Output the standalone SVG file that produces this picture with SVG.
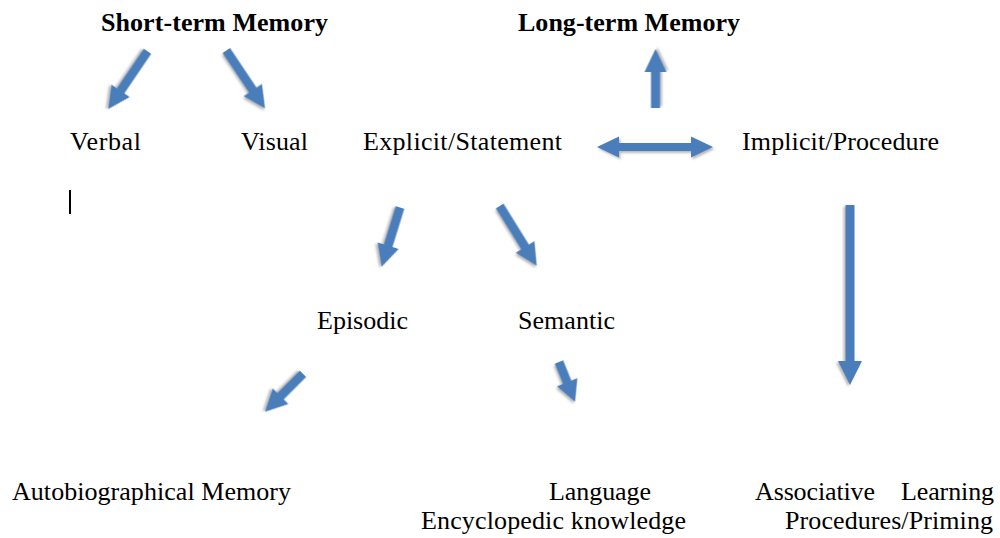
<svg xmlns="http://www.w3.org/2000/svg" width="1000" height="538" viewBox="0 0 1000 538">
  <style>
    text { font-family: "Liberation Serif", "Times New Roman", serif; font-size: 26px; fill: #000; }
    .b { font-weight: bold; }
    .arrow { fill: #4A7EBB; filter: url(#shadow); }
  </style>
  <defs>
    <filter id="shadow" x="-30%" y="-30%" width="160%" height="160%">
      <feDropShadow dx="1.5" dy="2" stdDeviation="1" flood-color="#808080" flood-opacity="0.55"/>
    </filter>
  </defs>
  <rect width="1000" height="538" fill="#fff"/>

  <!-- block arrows -->
  <g id="connectors">
    <!-- Short-term Memory -> Verbal -->
    <polygon class="arrow" transform="translate(147.5,51.3) rotate(124.2)" points="0,-4.5 47.8,-4.5 47.8,-11 69.8,0 47.8,11 47.8,4.5 0,4.5"/>
    <!-- Short-term Memory -> Visual -->
    <polygon class="arrow" transform="translate(226.3,50.5) rotate(56.2)" points="0,-4.5 47.6,-4.5 47.6,-11 69.6,0 47.6,11 47.6,4.5 0,4.5"/>
    <!-- up to Long-term Memory -->
    <polygon class="arrow" transform="translate(655.5,108) rotate(-90)" points="0,-4.5 36,-4.5 36,-11 59,0 36,11 36,4.5 0,4.5"/>
    <!-- Explicit/Statement <-> Implicit/Procedure -->
    <polygon class="arrow" points="597,147 619,136.5 619,143 691,143 691,136.5 713,147 691,157.5 691,151 619,151 619,157.5"/>
    <!-- Explicit/Statement -> Episodic -->
    <polygon class="arrow" transform="translate(400,207.5) rotate(107.2)" points="0,-4.5 40,-4.5 40,-11 62,0 40,11 40,4.5 0,4.5"/>
    <!-- Explicit/Statement -> Semantic -->
    <polygon class="arrow" transform="translate(499.7,206) rotate(58.2)" points="0,-4.5 48.2,-4.5 48.2,-11 70.2,0 48.2,11 48.2,4.5 0,4.5"/>
    <!-- Episodic -> Autobiographical Memory -->
    <polygon class="arrow" transform="translate(303,373.8) rotate(135)" points="0,-4.5 31.7,-4.5 31.7,-11 53.7,0 31.7,11 31.7,4.5 0,4.5"/>
    <!-- Semantic -> Language -->
    <polygon class="arrow" transform="translate(559,362) rotate(68)" points="0,-4.5 21.8,-4.5 21.8,-11 42.8,0 21.8,11 21.8,4.5 0,4.5"/>
    <!-- Implicit/Procedure -> Associative Learning -->
    <polygon class="arrow" transform="translate(850,205) rotate(90)" points="0,-4.5 156,-4.5 156,-12 180,0 156,12 156,4.5 0,4.5"/>
  </g>

  <g id="short-term"><text class="b" x="101" y="31" textLength="227">Short-term Memory</text></g>
  <g id="long-term"><text class="b" x="518" y="31" textLength="222">Long-term Memory</text></g>
  <g id="verbal"><text x="70" y="150" textLength="71">Verbal</text></g>
  <g id="visual"><text x="241" y="150" textLength="67">Visual</text></g>
  <g id="explicit"><text x="363" y="150" textLength="199">Explicit/Statement</text></g>
  <g id="implicit"><text x="742" y="150" textLength="197">Implicit/Procedure</text></g>
  <g id="episodic"><text x="317" y="329" textLength="91">Episodic</text></g>
  <g id="semantic"><text x="518" y="329" textLength="97">Semantic</text></g>
  <g id="autobiographical"><text x="12" y="500" textLength="279">Autobiographical Memory</text></g>
  <g id="language">
    <text x="549" y="500" textLength="102">Language</text>
    <text x="421" y="529" textLength="265">Encyclopedic knowledge</text>
  </g>
  <g id="associative">
    <text y="500"><tspan x="755" textLength="120">Associative</tspan> <tspan x="901" textLength="93">Learning</tspan></text>
    <text x="785" y="529" textLength="208">Procedures/Priming</text>
  </g>

  <!-- text cursor -->
  <rect x="69" y="190" width="2" height="24" fill="#000"/>
</svg>
